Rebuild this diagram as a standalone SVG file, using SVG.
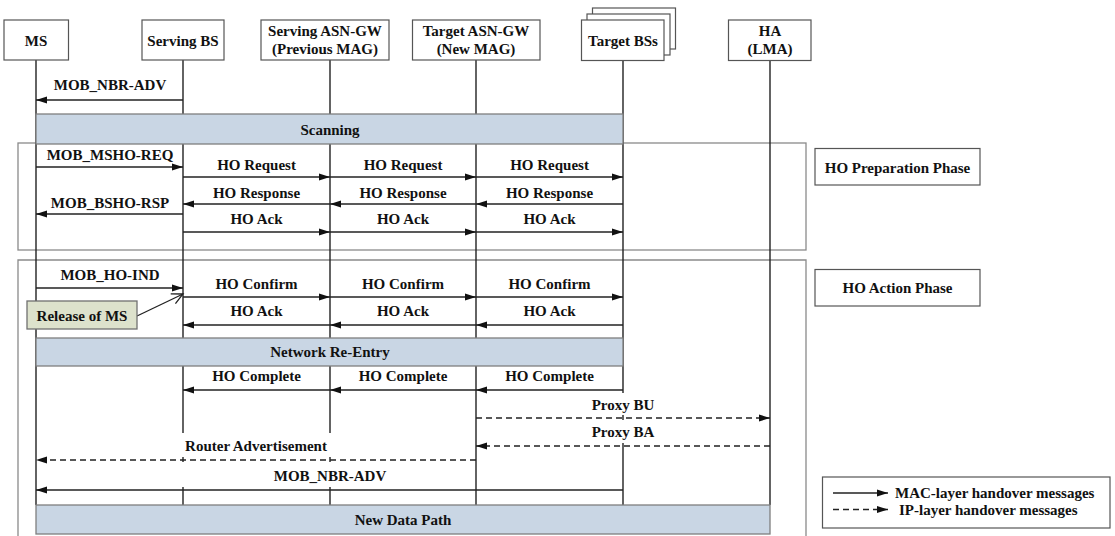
<svg xmlns="http://www.w3.org/2000/svg" width="1115" height="536" viewBox="0 0 1115 536">
<style>
text{font-family:"Liberation Serif","Times New Roman",serif;font-weight:bold;font-size:15px;fill:#111;text-anchor:middle}
.hbox{fill:#fff;stroke:#555;stroke-width:1.2}
.life{stroke:#222;stroke-width:1.4;fill:none}
.msg{stroke:#222;stroke-width:1.7;fill:none;marker-end:url(#ah)}
.dmsg{stroke:#222;stroke-width:1.6;fill:none;stroke-dasharray:6,4;marker-end:url(#ah)}
.band{fill:#c9d6e4;stroke:#7f7f7f;stroke-width:1.3}
.phase{fill:none;stroke:#8a8a8a;stroke-width:1.3}
.bg{fill:#fff;stroke:none}
</style>
<defs>
<marker id="ah" markerUnits="userSpaceOnUse" markerWidth="12" markerHeight="8" refX="11" refY="4" orient="auto">
<path d="M0,0.5 L11,4 L0,7.5 z" fill="#111"/>
</marker>
<marker id="open" markerUnits="userSpaceOnUse" markerWidth="14" markerHeight="14" refX="12" refY="7" orient="auto">
<path d="M1,1.5 L12,7 L1,12.5" fill="none" stroke="#222" stroke-width="1.3"/>
</marker>
</defs>
<rect width="1115" height="536" fill="#fff"/>
<g id="phase-frames">
<rect class="phase" x="18" y="143" width="788" height="107"/>
<path class="phase" d="M18,540 V260 H806 V540"/>
</g>
<g id="lifelines">
<line class="life" x1="36" y1="60" x2="36" y2="505"/>
<line class="life" x1="183" y1="60" x2="183" y2="505"/>
<line class="life" x1="330" y1="60" x2="330" y2="505"/>
<line class="life" x1="476" y1="60" x2="476" y2="505"/>
<line class="life" x1="623" y1="60" x2="623" y2="505"/>
<line class="life" x1="770" y1="60" x2="770" y2="505"/>
</g>
<g id="label-backgrounds">
<rect class="bg" x="590" y="393" width="66" height="22"/>
<rect class="bg" x="590" y="420" width="66" height="23"/>
<rect class="bg" x="181" y="433" width="151" height="24"/>
<rect class="bg" x="100" y="462" width="340" height="25"/>
</g>
<g id="bands">
<g id="scanning"><rect class="band" x="36" y="114" width="587" height="30"/><text x="330" y="135">Scanning</text></g>
<g id="network-reentry"><rect class="band" x="36" y="338" width="587" height="28"/><text x="330" y="357">Network Re-Entry</text></g>
<g id="new-data-path"><rect class="band" x="36" y="505" width="734" height="29"/><text x="403" y="525">New Data Path</text></g>
</g>
<g id="connectors">
<line class="msg" x1="183" y1="100" x2="36" y2="100"/>
<line class="msg" x1="36" y1="167" x2="183" y2="167"/>
<line class="msg" x1="183" y1="177" x2="330" y2="177"/>
<line class="msg" x1="330" y1="177" x2="476" y2="177"/>
<line class="msg" x1="476" y1="177" x2="623" y2="177"/>
<line class="msg" x1="623" y1="204" x2="476" y2="204"/>
<line class="msg" x1="476" y1="204" x2="330" y2="204"/>
<line class="msg" x1="330" y1="204" x2="183" y2="204"/>
<line class="msg" x1="183" y1="214" x2="36" y2="214"/>
<line class="msg" x1="183" y1="232" x2="330" y2="232"/>
<line class="msg" x1="330" y1="232" x2="476" y2="232"/>
<line class="msg" x1="476" y1="232" x2="623" y2="232"/>
<line class="msg" x1="36" y1="288" x2="183" y2="288"/>
<line class="msg" x1="183" y1="297" x2="330" y2="297"/>
<line class="msg" x1="330" y1="297" x2="476" y2="297"/>
<line class="msg" x1="476" y1="297" x2="623" y2="297"/>
<line class="msg" x1="623" y1="325" x2="476" y2="325"/>
<line class="msg" x1="476" y1="325" x2="330" y2="325"/>
<line class="msg" x1="330" y1="325" x2="183" y2="325"/>
<line class="msg" x1="623" y1="390" x2="476" y2="390"/>
<line class="msg" x1="476" y1="390" x2="330" y2="390"/>
<line class="msg" x1="330" y1="390" x2="183" y2="390"/>
<line class="dmsg" x1="476" y1="418" x2="770" y2="418"/>
<line class="dmsg" x1="770" y1="446" x2="476" y2="446"/>
<line class="dmsg" x1="476" y1="460" x2="36" y2="460"/>
<line class="msg" x1="623" y1="490" x2="36" y2="490"/>
<line stroke="#222" stroke-width="1.3" marker-end="url(#open)" x1="137" y1="316" x2="183" y2="294"/>
</g>
<g id="message-labels">
<text x="110" y="90">MOB_NBR-ADV</text>
<text x="110" y="160">MOB_MSHO-REQ</text>
<text x="256.5" y="170">HO Request</text>
<text x="403" y="170">HO Request</text>
<text x="549.5" y="170">HO Request</text>
<text x="256.5" y="198">HO Response</text>
<text x="403" y="198">HO Response</text>
<text x="549.5" y="198">HO Response</text>
<text x="110" y="208">MOB_BSHO-RSP</text>
<text x="256.5" y="224">HO Ack</text>
<text x="403" y="224">HO Ack</text>
<text x="549.5" y="224">HO Ack</text>
<text x="110" y="280">MOB_HO-IND</text>
<text x="256.5" y="289">HO Confirm</text>
<text x="403" y="289">HO Confirm</text>
<text x="549.5" y="289">HO Confirm</text>
<text x="256.5" y="316">HO Ack</text>
<text x="403" y="316">HO Ack</text>
<text x="549.5" y="316">HO Ack</text>
<text x="256.5" y="381">HO Complete</text>
<text x="403" y="381">HO Complete</text>
<text x="549.5" y="381">HO Complete</text>
<text x="623" y="410">Proxy BU</text>
<text x="623" y="437">Proxy BA</text>
<text x="256" y="451">Router Advertisement</text>
<text x="330" y="481">MOB_NBR-ADV</text>
</g>
<g id="release-of-ms">
<rect x="27" y="301" width="110" height="28" fill="#dde2cc" stroke="#707070" stroke-width="1.3"/>
<text x="82" y="320.5">Release of MS</text>
</g>
<g id="node-ms"><rect class="hbox" x="4" y="20" width="64.5" height="40"/><text x="36" y="45.5">MS</text></g>
<g id="node-serving-bs"><rect class="hbox" x="142" y="20" width="82" height="40"/><text x="183" y="45.5">Serving BS</text></g>
<g id="node-serving-asngw"><rect class="hbox" x="261" y="20" width="128" height="40"/><text x="325" y="36">Serving ASN-GW</text><text x="325" y="53.5">(Previous MAG)</text></g>
<g id="node-target-asngw"><rect class="hbox" x="412.5" y="20" width="127.5" height="40"/><text x="476" y="36">Target ASN-GW</text><text x="476" y="53.5">(New MAG)</text></g>
<g id="node-target-bss">
<rect class="hbox" x="592.5" y="8" width="83" height="41"/>
<rect class="hbox" x="587" y="14" width="83" height="41"/>
<rect class="hbox" x="581.5" y="20" width="82.5" height="40.5"/>
<text x="623" y="45.5">Target BSs</text>
</g>
<g id="node-ha"><rect class="hbox" x="728.5" y="20" width="82.5" height="40.5"/><text x="770" y="36">HA</text><text x="770" y="54">(LMA)</text></g>
<g id="phase-prep"><rect class="hbox" x="815" y="148.5" width="165" height="36.5"/><text x="897.5" y="172.5">HO Preparation Phase</text></g>
<g id="phase-action"><rect class="hbox" x="815" y="269.5" width="165" height="36.5"/><text x="897.5" y="293">HO Action Phase</text></g>
<g id="legend">
<rect class="hbox" x="822.5" y="477" width="287.5" height="51"/>
<line class="msg" x1="833" y1="493" x2="888" y2="493"/>
<line class="dmsg" x1="833" y1="509.5" x2="888" y2="509.5"/>
<text x="895" y="498" style="text-anchor:start">MAC-layer handover messages</text>
<text x="899" y="515" style="text-anchor:start">IP-layer handover messages</text>
</g>
</svg>
